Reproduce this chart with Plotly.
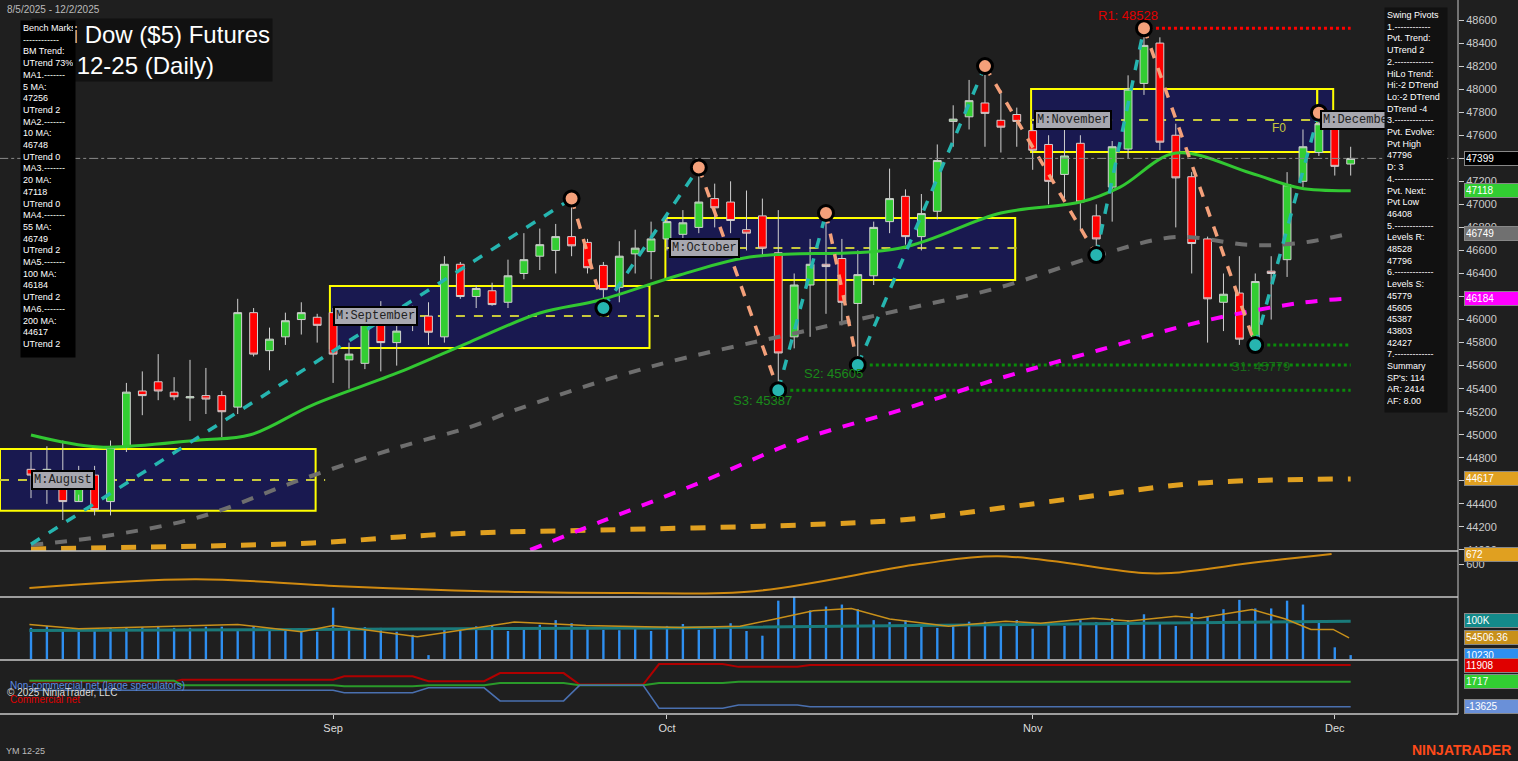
import plotly.graph_objects as go
from plotly.subplots import make_subplots

# ---- price bars (trading days 8/5/2025 .. 12/2/2025) ----
opens = [44700, 44600, 44620, 44420, 44650, 44420, 44900, 45380, 45460, 45370, 45320, 45340, 45340, 45240, 46060, 45730, 45850, 46000, 46020,
         46060, 45650, 45620, 46050, 45800, 45950, 46030, 45850, 46480, 46200, 46250, 46150, 46400, 46550, 46600, 46720, 46670, 46470, 46280, 46570, 46590,
         46700, 46740, 46800, 47050, 47020, 46780, 46900, 46580, 45850, 46300, 46480, 46530, 46140, 46380, 46850, 47070, 46720, 46940, 47720, 47760, 47880, 47730, 47780,
         47640, 47520, 47260, 47530, 46900, 47150, 47480, 48050, 48400, 47600, 47240, 46700, 46150, 46230, 45830, 46420, 46520, 47200, 47450,
         47760, 47350]
closes = [44650, 44700, 44420, 44620, 44350, 44890, 45370, 45340, 45380, 45330, 45330, 45310, 45200, 46060, 45700, 45830, 45990, 46060, 45950,
          45700, 45700, 46000, 45800, 45900, 46050, 45890, 46480, 46200, 46270, 46130, 46380, 46520, 46650, 46720, 46640, 46450, 46260, 46550, 46620, 46700,
          46850, 46840, 47020, 46970, 46860, 46750, 46620, 45710, 46300, 46480, 46460, 46150, 46390, 46800, 47050, 46720, 46920, 47380, 47740, 47900, 47790, 47670, 47720,
          47470, 47200, 47420, 47020, 46700, 47500, 48000, 48380, 47540, 47230, 46660, 46180, 46220, 45830, 46330, 46400, 47170, 47500, 47700,
          47330, 47399]
highs = [44850, 44900, 44950, 44730, 44730, 44950, 45450, 45550, 45700, 45500, 45650, 45580, 45380, 46180, 46100, 45930, 46060, 46150, 46050,
         46100, 45800, 46080, 46160, 46000, 46120, 46150, 46550, 46500, 46300, 46320, 46520, 46750, 46790, 46830, 47050, 46700, 46500, 46680, 46780, 46850,
         46900, 46950, 47320, 47180, 47200, 47120, 47050, 46950, 46400, 46700, 46925, 46700, 46600, 46850, 47310, 47130, 47090, 47520, 47860, 48080, 48200, 47990, 47840,
         47700, 47600, 47700, 47600, 47000, 47550, 48120, 48528, 48450, 47700, 47280, 46720, 46400, 46550, 46400, 46550, 47280, 47650, 47796,
         47800, 47500]
lows = [44450, 44400, 44260, 44480, 44300, 44300, 44850, 45170, 45300, 45300, 45120, 45180, 44980, 45180, 45680, 45560, 45780, 45870, 45800,
        45450, 45400, 45570, 45550, 45600, 45900, 45780, 45800, 46180, 46100, 46120, 46100, 46350, 46430, 46400, 46550, 46400, 46100, 46150, 46400, 46350,
        46600, 46650, 46750, 46800, 46750, 46600, 46550, 45387, 45750, 45850, 46050, 45950, 45605, 46300, 46750, 46650, 46600, 46870, 47500, 47650, 47500, 47450, 47500,
        47300, 47000, 47050, 46780, 46560, 46850, 47400, 47950, 47470, 46800, 46400, 45800, 45900, 45780, 45779, 46000, 46370, 47150, 47420,
        47250, 47250]
volume_k = [80, 85, 72, 70, 76, 80, 80, 82, 85, 80, 80, 83, 83, 72, 85, 78, 75, 74, 70,
            132, 75, 82, 80, 70, 62, 10, 78, 72, 84, 85, 72, 80, 88, 100, 92, 80, 75, 74, 80, 72,
            85, 90, 75, 80, 92, 72, 60, 150, 160, 125, 135, 140, 128, 100, 95, 100, 90, 80, 85, 96, 96, 88, 100,
            78, 95, 85, 100, 95, 105, 100, 115, 95, 85, 118, 110, 128, 152, 130, 130, 150, 140, 95,
            30, 10]
n = len(closes)
bars = list(range(n))

month_ticks = [19, 40, 63, 82]
month_labels = ["Sep", "Oct", "Nov", "Dec"]

# moving averages (bar index, value)
ma20_i = [0, 4.3, 10.6, 13.8, 17.7, 23.2, 27.6, 32, 35.8, 40.8, 45.2, 54.7, 61, 66, 68.5, 72, 76.7, 79.8, 83]
ma20_v = [44998, 44894, 44955, 45000, 45258, 45545, 45805, 46057, 46170, 46387, 46543, 46621, 46925, 47020, 47150, 47445, 47272, 47142, 47118]
ma55_i = [0, 4.3, 10.6, 16.9, 23.2, 27.6, 30.8, 38.9, 48.4, 54.7, 61, 67.2, 72, 76.7, 79.8, 83]
ma55_v = [44043, 44113, 44286, 44607, 44894, 45067, 45232, 45588, 45892, 46083, 46282, 46560, 46716, 46647, 46664, 46749]
ma100_i = [31.4, 35.8, 42, 48.4, 54.7, 61, 67.2, 73.5, 79.8, 83]
ma100_v = [44000, 44243, 44581, 44955, 45215, 45493, 45736, 45979, 46144, 46184]
ma200_i = [0, 17.7, 23.2, 27.6, 35.8, 48.4, 54.7, 61, 67.2, 73.5, 83]
ma200_v = [44009, 44061, 44113, 44147, 44173, 44217, 44260, 44364, 44477, 44581, 44617]

# swing pivots
pivot_i = [0, 34, 36, 42, 47, 50, 52, 60, 67, 70, 77, 81]
pivot_v = [44050, 47050, 46100, 47320, 45387, 46925, 45605, 48200, 46560, 48528, 45779, 47796]

# monthly ranges
month_names = ["M:August", "M:September", "M:October", "M:November", "M:December"]
month_start = [-1.95, 18.8, 39.9, 62.9, 80.9]
month_end = [17.9, 38.9, 61.9, 80.9, 81.9]
month_high = [44877, 46291, 46881, 48001, 48001]
month_low = [44340, 45753, 46343, 47454, 47454]
month_mid = [44607, 46030, 46621, 47732, 47732]

# oscillator panel
osc_i = [-0.1, 10.3, 19.4, 30.9, 37.6, 45.5, 55.9, 60.8, 69.9, 71.7, 77.2, 81.8]
osc_v = [427, 490, 441, 398, 391, 405, 600, 657, 535, 535, 614, 672]

# volume averages
vavg_i = [-0.1, 3, 13, 17, 19, 24.3, 30.4, 34.9, 40.9, 44.6, 46.8, 49.2, 51.6, 54, 57.7, 61.3, 63.5, 66.8, 69.1, 72, 73.4, 76.8, 78.9, 80.5, 81.9, 82.9]
vavg_v = [89, 78, 89, 70, 86, 57, 95, 86, 81, 84, 103, 124, 130, 103, 84, 97, 92, 105, 98, 110, 105, 127, 103, 76, 76, 54.5]
vslow_i = [-0.1, 40, 83]
vslow_v = [73, 80, 97]

# COT panel (step values)
cot_i = [-0.1, 9, 9.5, 19, 19.7, 24, 25, 28.5, 29.5, 33.5, 34.5, 38.5, 39.5, 43.5, 44.5, 48.2, 49, 83]
cot_comm = [1800, 1800, 3000, 3000, 5000, 5000, 2000, 2000, 7000, 7000, 0, 0, 12500, 12500, 10800, 10800, 11908, 11908]
cot_spec = [2300, 2300, -400, -400, -1000, -1000, -400, -400, 1000, 1000, -500, -500, 1000, 1000, 1717, 1717, 1717, 1717]
cot_noncomm = [-3500, -3500, -3500, -3500, -5000, -5000, -2000, -2000, -10000, -10000, -500, -500, -14500, -14500, -12500, -12500, -13625, -13625]

bench_lines = ["Bench Marks", "------------", "BM Trend:", "UTrend 73%", "MA1.-------", "5 MA:", "47256", "UTrend 2",
               "MA2.-------", "10 MA:", "46748", "UTrend 0", "MA3.-------", "20 MA:", "47118", "UTrend 0",
               "MA4.-------", "55 MA:", "46749", "UTrend 2", "MA5.-------", "100 MA:", "46184", "UTrend 2",
               "MA6.-------", "200 MA:", "44617", "UTrend 2"]
swing_lines = ["Swing Pivots", "1.------------", "Pvt. Trend:", "UTrend 2", "2.-------------", "HiLo Trend:",
               "Hi:-2 DTrend", "Lo:-2 DTrend", "DTrend -4", "3.-------------", "Pvt. Evolve:", "Pvt High", "47796",
               "D: 3", "4.-------------", "Pvt. Next:", "Pvt Low", "46408", "5.-------------", "Levels R:", "48528",
               "47796", "6.-------------", "Levels S:", "45779", "45605", "45387", "43803", "42427", "7.-------------",
               "Summary", "SP's: 114", "AR: 2414", "AF: 8.00"]

BG = "#1f1f1f"
PW, PH = 1458, 714  # plot area in px


def px(x):
    return x / PW


def py(y):
    return 1 - y / PH


fig = make_subplots(rows=4, cols=1, shared_xaxes=True, vertical_spacing=0,
                    row_heights=[551, 45, 63, 55])

# month boxes
for k in range(len(month_names)):
    fig.add_shape(type="rect", x0=month_start[k], x1=month_end[k], y0=month_low[k], y1=month_high[k],
                  xref="x", yref="y", fillcolor="#191950", line=dict(color="#ffff00", width=2), layer="below")
    fig.add_shape(type="line", x0=month_start[k], x1=month_end[k] + 0.6, y0=month_mid[k], y1=month_mid[k],
                  xref="x", yref="y", line=dict(color="#c8c83c", width=2, dash="dash"), layer="below")

# levels
fig.add_shape(type="line", x0=-2, x1=89.8, y0=closes[-1], y1=closes[-1], xref="x", yref="y",
              line=dict(color="#8a8a8a", width=1, dash="dashdot"))
fig.add_trace(go.Scatter(x=[70, 83], y=[48528, 48528], mode="lines", line=dict(color="#ff0000", width=3, dash="dot"),
                         hoverinfo="skip"), row=1, col=1)
for start, lvl in [(77, 45779), (52, 45605), (47, 45387)]:
    fig.add_trace(go.Scatter(x=[start, 83], y=[lvl, lvl], mode="lines", line=dict(color="#0a8a0a", width=3, dash="dot"),
                             hoverinfo="skip"), row=1, col=1)

# moving averages
fig.add_trace(go.Scatter(x=ma200_i, y=ma200_v, mode="lines", line=dict(color="#e0a020", width=5, dash="dash", shape="spline")), row=1, col=1)
fig.add_trace(go.Scatter(x=ma100_i, y=ma100_v, mode="lines", line=dict(color="#ff00ff", width=4, dash="dash", shape="spline")), row=1, col=1)
fig.add_trace(go.Scatter(x=ma55_i, y=ma55_v, mode="lines", line=dict(color="#6e6e6e", width=4, dash="dash", shape="spline")), row=1, col=1)
fig.add_trace(go.Scatter(x=ma20_i, y=ma20_v, mode="lines", line=dict(color="#32c832", width=3, shape="spline")), row=1, col=1)

# candles
fig.add_trace(go.Candlestick(x=bars, open=opens, high=highs, low=lows, close=closes,
                             increasing=dict(line=dict(color="#d0d0d0", width=1), fillcolor="#32cd32"),
                             decreasing=dict(line=dict(color="#d0d0d0", width=1), fillcolor="#ff0000"),
                             whiskerwidth=0, hoverinfo="skip"), row=1, col=1)

# swing lines
for k in range(len(pivot_i) - 1):
    up = pivot_v[k + 1] > pivot_v[k]
    fig.add_trace(go.Scatter(x=pivot_i[k:k + 2], y=pivot_v[k:k + 2], mode="lines",
                             line=dict(color="#26b5b0" if up else "#f4a07a", width=3.5, dash="dash"),
                             hoverinfo="skip"), row=1, col=1)
pcolors = ["#26b5b0" if k % 2 == 0 else "#f4a07a" for k in range(len(pivot_i))]
fig.add_trace(go.Scatter(x=pivot_i[1:], y=pivot_v[1:], mode="markers",
                         marker=dict(size=15, color=pcolors[1:], line=dict(color="#000", width=3)),
                         hoverinfo="skip"), row=1, col=1)

# oscillator
fig.add_trace(go.Scatter(x=osc_i, y=osc_v, mode="lines", line=dict(color="#d08a10", width=2, shape="spline")), row=2, col=1)

# volume
fig.add_trace(go.Bar(x=bars, y=volume_k, marker=dict(color="#2e8ff0", line=dict(width=0)), width=0.15), row=3, col=1)
fig.add_trace(go.Scatter(x=vslow_i, y=vslow_v, mode="lines", line=dict(color="#1a7a7a", width=3, shape="spline")), row=3, col=1)
fig.add_trace(go.Scatter(x=vavg_i, y=vavg_v, mode="lines", line=dict(color="#c8901a", width=1.5)), row=3, col=1)

# COT
fig.add_trace(go.Scatter(x=cot_i, y=cot_comm, mode="lines", line=dict(color="#b00000", width=2)), row=4, col=1)
fig.add_trace(go.Scatter(x=cot_i, y=cot_spec, mode="lines", line=dict(color="#2a9a2a", width=2)), row=4, col=1)
fig.add_trace(go.Scatter(x=cot_i, y=cot_noncomm, mode="lines", line=dict(color="#4a70b0", width=1.5)), row=4, col=1)

ann = []
# month labels
for k in range(len(month_names)):
    ann.append(dict(x=month_start[k] + (0.2 if k else 1.95), y=month_mid[k], xref="x", yref="y", text=month_names[k],
                    showarrow=False, xanchor="left", font=dict(family="Liberation Mono", size=12, color="#222"),
                    bgcolor="#a8a8b0", bordercolor="#000", borderwidth=2, borderpad=1))
# level labels
ann.append(dict(x=69, y=48640, xref="x", yref="y", text="R1: 48528", showarrow=False, font=dict(color="#e00000", size=13)))
ann.append(dict(x=50.5, y=45530, xref="x", yref="y", text="S2: 45605", showarrow=False, font=dict(color="#1a8a1a", size=13)))
ann.append(dict(x=46, y=45300, xref="x", yref="y", text="S3: 45387", showarrow=False, font=dict(color="#1a8a1a", size=13)))
ann.append(dict(x=77.3, y=45590, xref="x", yref="y", text="S1: 45779", showarrow=False, font=dict(color="#1a6a1a", size=13)))
ann.append(dict(x=78.5, y=47660, xref="x", yref="y", text="F0", showarrow=False, font=dict(color="#c8c83c", size=12)))

# title (partly hidden behind the bench marks box, as in the original)
ann.append(dict(x=px(273), y=py(18), xref="paper", yref="paper",
                text="Mini Dow ($5) Futures<br>YM 12-25 (Daily)", showarrow=False, align="left",
                xanchor="right", yanchor="top", font=dict(size=24, color="#fff"), bgcolor="#111", borderpad=2))

# info boxes
ann.append(dict(x=px(20), y=py(20), xref="paper", yref="paper", text="<br>".join(bench_lines), showarrow=False,
                xanchor="left", yanchor="top", align="left", width=50, height=332, valign="top",
                font=dict(size=9, color="#fff"), bgcolor="#000", borderpad=2))
ann.append(dict(x=px(1384), y=py(7), xref="paper", yref="paper", text="<br>".join(swing_lines), showarrow=False,
                xanchor="left", yanchor="top", align="left", width=58, height=400, valign="top",
                font=dict(size=9, color="#fff"), bgcolor="#111", borderpad=2))
ann.append(dict(x=px(5), y=py(2), xref="paper", yref="paper", text="8/5/2025 - 12/2/2025", showarrow=False,
                xanchor="left", yanchor="top", font=dict(size=10, color="#bbb")))

# right axis tags
tags = [("y", closes[-1], "47399", "#000"), ("y", 47118, "47118", "#32cd32"),
        ("y", 46749, "46749", "#707070"), ("y", 46184, "46184", "#ff00ff"),
        ("y", 44617, "44617", "#e0a020"), ("y2", 672, "672", "#e0a020"),
        ("y3", 100, "100K", "#138a8a"), ("y3", 54.5, "54506.36", "#c8901a"),
        ("y3", 10.2, "10230", "#2e8ff0"), ("y4", 11908, "11908", "#e00000"),
        ("y4", 1717, "1717", "#32cd32"), ("y4", -13625, "-13625", "#6a90d8")]
for yr, v, t, bg in tags:
    ann.append(dict(x=1.004, y=v, xref="paper", yref=yr, text=t, showarrow=False, xanchor="left",
                    font=dict(size=10, color="#fff"), bgcolor=bg, bordercolor="#888", borderwidth=1, width=52, align="left"))

# footer
ann.append(dict(x=px(8), y=py(693), xref="paper", yref="paper", text="Non-commercial net (large speculators)",
                showarrow=False, xanchor="left", font=dict(size=10, color="#5a8ae0")))
ann.append(dict(x=px(5), y=py(700), xref="paper", yref="paper", text="© 2025 NinjaTrader, LLC",
                showarrow=False, xanchor="left", font=dict(size=10, color="#ddd")))
ann.append(dict(x=px(8), y=py(707), xref="paper", yref="paper", text="Commercial net",
                showarrow=False, xanchor="left", font=dict(size=10, color="#e00000")))
ann.append(dict(x=0.003, y=py(744), xref="paper", yref="paper", text="YM 12-25", showarrow=False,
                xanchor="left", yanchor="top", font=dict(size=9, color="#bbb")))
ann.append(dict(x=px(1513), y=py(740), xref="paper", yref="paper", text="<b>NINJATRADER</b>", showarrow=False,
                xanchor="right", yanchor="top", font=dict(size=14, color="#ff4a1a")))

# panel separators
for yb in [551, 597, 660, 714]:
    fig.add_shape(type="line", xref="paper", yref="paper", x0=0, x1=1, y0=py(yb), y1=py(yb),
                  line=dict(color="#c8c8c8", width=1.5))
fig.add_shape(type="line", xref="paper", yref="paper", x0=1, x1=1, y0=0, y1=1, line=dict(color="#c8c8c8", width=1))

fig.update_layout(width=1518, height=761, margin=dict(l=0, r=60, t=0, b=47),
                  paper_bgcolor=BG, plot_bgcolor=BG, showlegend=False, annotations=ann,
                  font=dict(family="Liberation Sans, Arial", color="#ddd"))
fig.update_xaxes(range=[-1.95, 89.75], showgrid=False, zeroline=False, rangeslider=dict(visible=False),
                 tickvals=month_ticks, ticktext=month_labels, ticks="outside", ticklen=4, tickcolor="#ccc",
                 tickfont=dict(size=11, color="#ddd"))
for r in (1, 2, 3):
    fig.update_xaxes(showticklabels=False, ticks="", row=r, col=1)
fig.update_yaxes(side="right", showgrid=False, zeroline=False, ticks="outside", ticklen=5, tickcolor="#ccc",
                 tickfont=dict(size=11, color="#ccc"), tickformat="d")
fig.update_yaxes(range=[43991, 48774], dtick=200, row=1, col=1)
fig.update_yaxes(range=[370, 694], tickvals=[600], row=2, col=1)
fig.update_yaxes(range=[0, 162], showticklabels=False, ticks="", row=3, col=1)
fig.update_yaxes(range=[-18000, 15600], showticklabels=False, ticks="", row=4, col=1)

fig.write_html("out.html", config={"displayModeBar": False},
               post_script="document.body.style.margin='0';")
